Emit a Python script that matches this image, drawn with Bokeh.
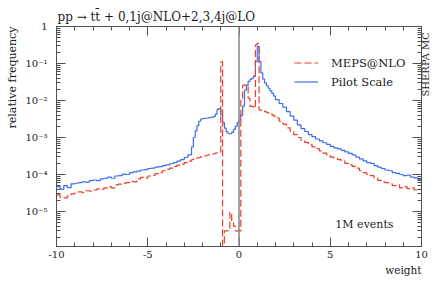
import math
import numpy as np
from bokeh.plotting import figure
from bokeh.models import (Range1d, FixedTicker, LinearAxis, LogAxis, CustomJSTickFormatter,
                          Span, Label, Legend, LegendItem, Title)
from bokeh.embed import file_html
from bokeh.resources import INLINE

# ---------------- data ----------------
# bin edges: 0.2 wide in the tails, 0.1 wide around the peaks
edges_left = np.linspace(-10.0, -2.6, 38)
edges_center = np.linspace(-2.6, 2.0, 47)
edges_right = np.linspace(2.0, 10.0, 41)
edges = np.concatenate([edges_left[:-1], edges_center[:-1], edges_right])

# Pilot Scale (blue, solid)
pilot_left = [4.7e-5, 4.0e-5, 5.0e-5, 4.4e-5, 5.6e-5, 5.8e-5, 6.0e-5, 6.3e-5, 6.2e-5, 6.8e-5,
              7.1e-5, 6.8e-5, 7.6e-5, 7.9e-5, 8.5e-5, 7.9e-5, 9.1e-5, 9.3e-5, 1.02e-4, 1.0e-4,
              1.12e-4, 1.17e-4, 1.23e-4, 1.32e-4, 1.35e-4, 1.45e-4, 1.48e-4, 1.58e-4, 1.62e-4, 1.74e-4,
              1.82e-4, 1.95e-4, 2.09e-4, 2.29e-4, 2.51e-4, 2.88e-4, 3.39e-4]
pilot_center = [5.6e-4, 1.0e-3, 1.51e-3, 2.09e-3, 2.75e-3, 3.16e-3, 3.24e-3, 3.31e-3, 3.31e-3, 3.39e-3,
                3.47e-3, 3.55e-3, 3.72e-3, 4.27e-3, 5.75e-3, 6.03e-3, 4.17e-3, 2.51e-3, 1.78e-3, 1.41e-3,
                1.26e-3, 1.26e-3, 1.38e-3, 1.66e-3, 2.0e-3, 2.51e-3, 3.0e-3, 3.98e-3, 7.0e-3, 1.9e-2,
                2.6e-2, 3.3e-2, 3.7e-2, 4.0e-2, 4.6e-2, 0.112, 0.288, 0.112, 5.6e-2, 3.8e-2,
                3.0e-2, 2.5e-2, 2.14e-2, 1.82e-2, 1.55e-2, 1.32e-2]
pilot_right = [1.05e-2, 8.3e-3, 6.6e-3, 5.0e-3, 3.8e-3, 2.95e-3, 2.19e-3, 1.74e-3, 1.45e-3, 1.20e-3,
               1.05e-3, 9.1e-4, 8.1e-4, 7.2e-4, 6.5e-4, 5.75e-4, 5.25e-4, 4.9e-4, 4.47e-4, 4.07e-4,
               3.72e-4, 3.39e-4, 2.95e-4, 2.63e-4, 2.34e-4, 2.09e-4, 2.0e-4, 1.74e-4, 1.58e-4, 1.45e-4,
               1.32e-4, 1.26e-4, 1.12e-4, 1.07e-4, 1.0e-4, 9.3e-5, 9.6e-5, 8.5e-5, 8.1e-5, 7.4e-5]

# MEPS@NLO (red, dashed)
meps_left = [2.8e-5, 2.4e-5, 2.34e-5, 2.63e-5, 3.0e-5, 3.16e-5, 3.39e-5, 3.24e-5, 3.63e-5, 3.55e-5,
             3.8e-5, 4.07e-5, 3.98e-5, 4.37e-5, 4.68e-5, 4.37e-5, 5.25e-5, 5.5e-5, 5.75e-5, 6.03e-5,
             6.6e-5, 6.3e-5, 7.6e-5, 8.3e-5, 8.0e-5, 9.1e-5, 9.5e-5, 1.05e-4, 1.12e-4, 1.26e-4,
             1.38e-4, 1.48e-4, 1.66e-4, 1.78e-4, 1.91e-4, 2.09e-4, 2.29e-4]
meps_center = [2.51e-4, 2.63e-4, 2.69e-4, 2.82e-4, 2.88e-4, 3.02e-4, 3.09e-4, 3.16e-4, 3.31e-4, 3.39e-4,
               3.47e-4, 3.55e-4, 3.63e-4, 3.8e-4, 3.89e-4, 3.98e-4, 0.11, 0.0, 3.0e-6, 3.0e-6,
               3.5e-6, 9.5e-6, 5.5e-6, 4.0e-6, 3.0e-6, 3.0e-6, 3.0e-6, 1.15e-2, 2.6e-2, 2.6e-2,
               2.5e-2, 1.15e-2, 6.9e-3, 6.9e-3, 6.3e-3, 0.32, 0.35, 5.6e-3, 5.4e-3, 5.25e-3,
               5.0e-3, 4.8e-3, 4.57e-3, 4.37e-3, 4.07e-3, 3.8e-3]
meps_right = [3.39e-3, 2.75e-3, 2.29e-3, 1.82e-3, 1.45e-3, 1.20e-3, 1.0e-3, 8.3e-4, 7.4e-4, 6.5e-4,
              5.6e-4, 5.0e-4, 4.37e-4, 3.8e-4, 3.39e-4, 2.95e-4, 2.75e-4, 2.51e-4, 2.29e-4, 2.0e-4,
              1.82e-4, 1.66e-4, 1.48e-4, 1.26e-4, 1.12e-4, 1.0e-4, 9.3e-5, 7.9e-5, 6.9e-5, 6.3e-5,
              6.0e-5, 5.6e-5, 5.0e-5, 5.25e-5, 4.37e-5, 4.68e-5, 4.17e-5, 4.37e-5, 3.8e-5, 3.98e-5]

X_MAJOR = [-10, -5, 0, 5, 10]
X_MINOR = list(range(-10, 11))
Y_MAJOR = [10.0 ** k for k in range(-6, 1)]
Y_MINOR = [m * 10.0 ** k for k in range(-7, 0) for m in range(2, 10)]
Y_MIN, Y_MAX = 1.13e-6, 1.0

TITLE = "pp \u2192 tt\u0304 + 0,1j@NLO+2,3,4j@LO"

# ---------------- helpers ----------------
def steps(vals):
    v = np.asarray(vals, dtype=float)
    v = np.where(v > 0, v, 1e-12)  # empty bins drop below the axis
    return np.repeat(edges, 2)[1:-1], np.repeat(v, 2)

FONT = "DejaVu Serif"
AX = "#505050"
TXT = "#1a1a1a"

p = figure(width=441, height=283, x_range=Range1d(-10, 10), y_range=Range1d(Y_MIN, Y_MAX),
           y_axis_type="log", output_backend="svg", toolbar_location=None,
           min_border_left=55, min_border_right=20, min_border_top=26, min_border_bottom=37)
p.xgrid.visible = False
p.ygrid.visible = False
p.outline_line_color = AX
p.background_fill_color = "white"
p.border_fill_color = "white"

p.title.text = TITLE
p.title.align = "left"
p.title.offset = 1
p.title.standoff = 5
p.title.text_font = FONT
p.title.text_font_size = "12px"
p.title.text_font_style = "normal"
p.title.text_color = TXT

xt = FixedTicker(ticks=X_MAJOR, minor_ticks=X_MINOR)
yt = FixedTicker(ticks=Y_MAJOR, minor_ticks=Y_MINOR)
yfmt = CustomJSTickFormatter(code="""
const e = Math.round(Math.log10(tick));
if (e === 0) { return '1'; }
const sup = {'0':'\u2070','1':'\u00b9','2':'\u00b2','3':'\u00b3','4':'\u2074','5':'\u2075',
             '6':'\u2076','7':'\u2077','8':'\u2078','9':'\u2079','-':'\u207b'};
return '10' + String(e).split('').map(c => sup[c]).join('');
""")
xfmt = CustomJSTickFormatter(code="return tick.toFixed(0);")
empty = CustomJSTickFormatter(code="return '';")

def style(ax, major=9, minor=4):
    ax.axis_line_color = AX
    ax.major_tick_line_color = AX
    ax.minor_tick_line_color = AX
    ax.major_tick_in = major
    ax.major_tick_out = 0
    ax.minor_tick_in = minor
    ax.minor_tick_out = 0
    ax.major_label_text_font = FONT
    ax.major_label_text_font_size = "10px"
    ax.major_label_text_color = TXT
    ax.axis_label_text_font = FONT
    ax.axis_label_text_font_style = "normal"
    ax.axis_label_text_color = TXT

xa = p.xaxis[0]
xa.ticker = xt
xa.formatter = xfmt
style(xa)
xa.major_label_standoff = 4
ya = p.yaxis[0]
ya.ticker = yt
ya.formatter = yfmt
style(ya)
ya.major_label_standoff = 9

top = LinearAxis(ticker=xt, formatter=empty)
style(top)
top.major_label_standoff = 0
top.major_label_text_font_size = "0px"
p.add_layout(top, "above")

right = LogAxis(ticker=yt, formatter=empty)
style(right)
right.major_label_standoff = 0
right.major_label_text_font_size = "0px"
p.add_layout(right, "right")

# second, invisible right axis that only carries the "SHERPA MC" label;
# the label starts at mid-height and reads upward, em spaces lift it to the top part
tag = LogAxis(ticker=FixedTicker(ticks=[]), formatter=empty)
tag.axis_line_color = None
tag.major_tick_line_color = None
tag.minor_tick_line_color = None
tag.major_label_standoff = 0
tag.major_label_text_font_size = "0px"
tag.axis_label = "\u2003\u2003\u2003\u2003SHERPA MC"
tag.axis_label_text_font = FONT
tag.axis_label_text_font_style = "normal"
tag.axis_label_text_color = TXT
tag.axis_label_text_font_size = "10px"
tag.axis_label_orientation = math.pi / 2
tag.axis_label_standoff = 4
p.add_layout(tag, "right")

p.add_layout(Title(text="relative frequency", align="right", standoff=7, text_font=FONT,
                   text_font_size="11px", text_font_style="normal", text_color=TXT), "left")
p.add_layout(Title(text="weight", align="right", standoff=3, text_font=FONT,
                   text_font_size="10.5px", text_font_style="normal", text_color=TXT), "below")

p.add_layout(Span(location=0, dimension="height", line_color="#8c8c8c", line_width=1.6))

bx, by = steps(pilot_left + pilot_center + pilot_right)
rx, ry = steps(meps_left + meps_center + meps_right)
blue = p.line(bx, by, line_color="#3d6ef0", line_width=1.2)
red = p.line(rx, ry, line_color="#ee3d24", line_width=1.2, line_dash="7 3")

lg = Legend(items=[LegendItem(label="MEPS@NLO", renderers=[red]),
                   LegendItem(label="Pilot Scale", renderers=[blue])],
            location=(238, 155), border_line_color=None, background_fill_alpha=0,
            padding=0, margin=0, spacing=0, glyph_width=24, glyph_height=19, label_height=19,
            label_standoff=13, label_text_font=FONT, label_text_font_size="11.5px",
            label_text_color=TXT)
p.add_layout(lg)

p.add_layout(Label(x=10, y=Y_MIN, x_offset=-28, y_offset=22, text="1M events",
                   text_font=FONT, text_font_size="11px", text_color=TXT,
                   text_align="right", text_baseline="middle"))

open("out.html", "w").write(file_html(p, INLINE))
